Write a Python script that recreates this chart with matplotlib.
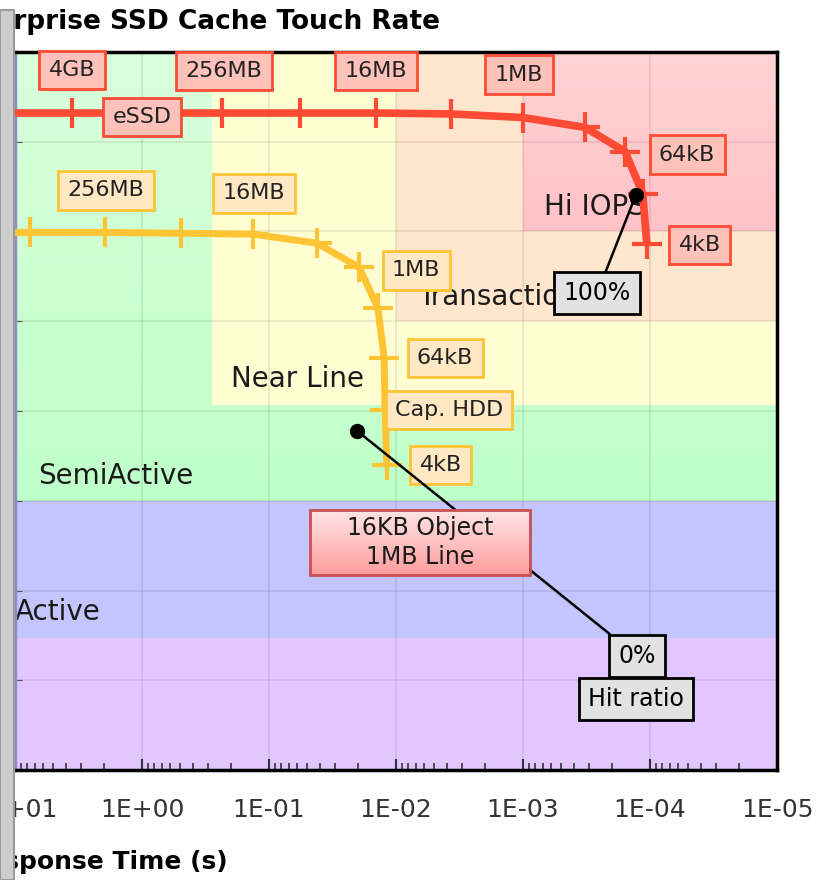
import numpy as np
import matplotlib.pyplot as plt
from matplotlib.patches import Rectangle

# eSSD curve: response time (s) vs touch rate, one point per cache size
essd_size = ['16GB', '4GB', '1GB', '256MB', '64MB', '16MB', '4MB', '1MB', '256kB', '64kB', '16kB', '4kB']
essd_time = [13.9, 3.56, 0.914, 0.234, 0.057, 0.0144, 0.00369, 0.001, 3.25e-4, 1.57e-4, 1.14e-4, 1.06e-4]
essd_rate = [7.32, 7.32, 7.32, 7.32, 7.32, 7.32, 7.31, 7.27, 7.16, 6.89, 6.42, 5.86]
essd_labels = ['', '4GB', 'eSSD', '256MB', '', '16MB', '', '1MB', '', '64kB', '', '4kB']

# capacity HDD curve
hdd_size = ['4GB', '1GB', '256MB', '64MB', '16MB', '4MB', '1MB', '256kB', '64kB', '16kB', '4kB']
hdd_time = [29.6, 7.62, 1.95, 0.493, 0.134, 0.0419, 0.0195, 0.0139, 0.0124, 0.0122, 0.0118]
hdd_rate = [5.99, 5.99, 5.99, 5.98, 5.97, 5.87, 5.60, 5.15, 4.59, 4.01, 3.40]
hdd_labels = ['', '', '256MB', '', '16MB', '', '1MB', '', '64kB', 'Cap. HDD', '4kB']

# solid workload zones: time max, time min, rate min, rate max
zone_tmax = [10, 10, 0.28, 0.01]
zone_tmin = [1e-5, 1e-5, 1e-5, 1e-5]
zone_rmin = [0, 1.47, 4.07, 5]
zone_rmax = [1.47, 3, 8, 8]
zone_colors = ['#e2c6ff', '#c4c4ff', '#fffdd2', '#ffe6cc']

zone_text = ['Hi IOPS', 'Transaction', 'Near Line', 'SemiActive', 'Active']
zone_text_x = [6.84e-4, 6.71e-3, 0.199, 6.59, 10]
zone_text_y = [6.27, 5.27, 4.36, 3.28, 1.76]

red = '#ff4b33'
gold = '#ffc433'

fig = plt.figure(figsize=(8.19, 8.8), dpi=100)
ax = fig.add_axes([15 / 819, 110 / 880, 762 / 819, 718 / 880])

# zones
green = np.linspace([0.85, 1.0, 0.86], [0.75, 1.0, 0.79], 50).reshape(50, 1, 3)
ax.imshow(green, extent=(10, 1e-5, 3, 8), aspect='auto', zorder=0.2, interpolation='bilinear')
for t1, t0, r0, r1, c in zip(zone_tmax, zone_tmin, zone_rmin, zone_rmax, zone_colors):
    ax.fill([t1, t0, t0, t1], [r0, r0, r1, r1], color=c, lw=0, zorder=0.4)
pink = np.linspace([1.0, 0.83, 0.83], [1.0, 0.76, 0.78], 50).reshape(50, 1, 3)
ax.imshow(pink, extent=(1e-3, 1e-5, 6, 8), aspect='auto', zorder=0.6, interpolation='bilinear')

for s, x, y in zip(zone_text, zone_text_x, zone_text_y):
    ax.text(x, y, s, ha='left', va='center', fontsize=20, color='#1a1a1a', zorder=2)

# curves
ax.plot(essd_time, essd_rate, color=red, lw=5.5, marker='+', ms=22, mew=3, zorder=4,
        solid_capstyle='butt')
ax.plot(hdd_time, hdd_rate, color=gold, lw=5, marker='+', ms=22, mew=3, zorder=4,
        solid_capstyle='butt')

essd_off = {'4GB': (0, 43), 'eSSD': (-5, -4), '256MB': (2, 42), '16MB': (0, 42),
            '1MB': (-4, 43), '64kB': (62, -3), '4kB': (53, -1)}
hdd_off = {'256MB': (1, 42), '16MB': (1, 41), '1MB': (57, -3), '64kB': (61, 0),
           'Cap. HDD': (64, 0), '4kB': (54, 0)}

for t, r, lab in zip(essd_time, essd_rate, essd_labels):
    if lab:
        ax.annotate(lab, (t, r), xytext=essd_off[lab], textcoords='offset pixels',
                    ha='center', va='center', fontsize=16, color='#222222', zorder=6,
                    bbox=dict(boxstyle='square,pad=0.42', fc='#ffc2bb', ec=red, lw=2))
for t, r, lab in zip(hdd_time, hdd_rate, hdd_labels):
    if lab:
        ax.annotate(lab, (t, r), xytext=hdd_off[lab], textcoords='offset pixels',
                    ha='center', va='center', fontsize=16, color='#222222', zorder=6,
                    bbox=dict(boxstyle='square,pad=0.42', fc='#ffe8c4', ec=gold, lw=2))

# hit ratio callouts
grey_box = dict(boxstyle='square,pad=0.38', fc='#e2e2e2', ec='black', lw=2)
ax.plot([1.29e-4, 0.0203], [6.41, 3.78], 'o', color='black', ms=10, zorder=7)
ax.annotate('100%', (1.29e-4, 6.41), xytext=(2.61e-4, 5.31), textcoords='data',
            ha='center', va='center', fontsize=17, zorder=7, bbox=grey_box,
            arrowprops=dict(arrowstyle='-', color='black', lw=1.8, shrinkA=0, shrinkB=0))
ax.annotate('0%', (0.0203, 3.78), xytext=(1.265e-4, 1.27), textcoords='data',
            ha='center', va='center', fontsize=17, zorder=7, bbox=grey_box,
            arrowprops=dict(arrowstyle='-', color='black', lw=1.8, shrinkA=0, shrinkB=0))
ax.text(1.29e-4, 0.79, 'Hit ratio', ha='center', va='center', fontsize=17, zorder=7,
        bbox=grey_box)

# "16KB Object / 1MB Line" box with a red gradient
box_grad = np.linspace([1.0, 0.9, 0.9], [1.0, 0.62, 0.62], 50).reshape(50, 1, 3)
ax.imshow(box_grad, extent=(0.0475, 8.8e-4, 2.17, 2.90), aspect='auto', zorder=8,
          interpolation='bilinear')
ax.add_patch(Rectangle((0.0475, 2.17), 8.8e-4 - 0.0475, 0.73, fc='none', ec='#c85050',
                       lw=2, zorder=8.5))
ax.text(6.47e-3, 2.535, '16KB Object\n1MB Line', ha='center', va='center', fontsize=17,
        zorder=9, linespacing=1.25, color='#1a1a1a')

# axes
ax.set_xscale('log')
ax.set_xlim(10, 1e-5)
ax.set_ylim(0, 8)
ax.set_xticks([10, 1, 0.1, 0.01, 1e-3, 1e-4, 1e-5])
ax.set_xticklabels(['1E+01', '1E+00', '1E-01', '1E-02', '1E-03', '1E-04', '1E-05'])
ax.set_yticks(range(9))
ax.tick_params(axis='x', which='major', direction='in', length=8, width=1.5, pad=20,
               labelsize=18, colors='#333333')
ax.tick_params(axis='x', which='minor', direction='in', length=5, width=1.2, colors='#333333')
ax.tick_params(axis='y', direction='in', length=5, labelleft=False, colors='#555555')
ax.grid(True, which='major', color='black', alpha=0.09, lw=1.2)
ax.set_axisbelow('line')
for side in ['top', 'right', 'bottom']:
    ax.spines[side].set_linewidth(2.5)
    ax.spines[side].set_color('black')
ax.spines['left'].set_color('#8f8fd0')
ax.spines['left'].set_linewidth(2.5)

fig.text(440 / 819, 1 - 22 / 880, 'Enterprise SSD Cache Touch Rate', ha='right', va='center',
         fontsize=19, fontweight='bold')
fig.text(228 / 819, 1 - 862 / 880, 'Response Time (s)', ha='right', va='center',
         fontsize=18, fontweight='bold')

fig.add_artist(Rectangle((0, 0), 14 / 819, 870 / 880, transform=fig.transFigure,
                         fc='#cdcdcd', ec='#9a9a9a', lw=1.5, zorder=20))

fig.savefig('out.png', dpi=100)
